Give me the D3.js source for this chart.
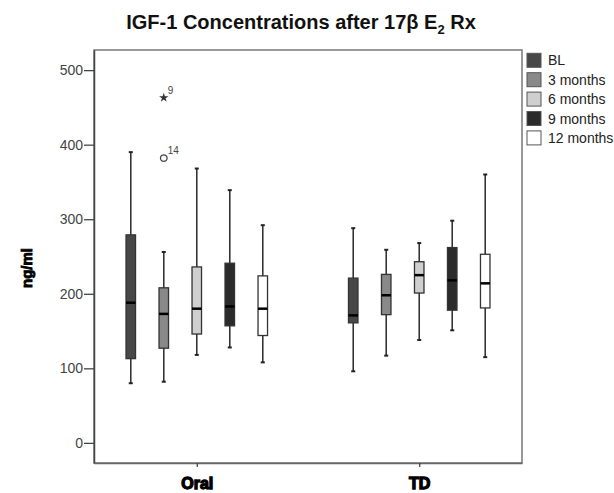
<!DOCTYPE html>
<html>
<head>
<meta charset="utf-8">
<script src="https://cdn.jsdelivr.net/npm/d3@7"></script>
<style>
  body { margin: 0; background: #fff; }
  svg { display: block; font-family: "Liberation Sans", Arial, sans-serif; }
</style>
</head>
<body>
<div id="chart"></div>
<script>
(function () {
  "use strict";

  // groups on the x axis and the five time points
  const groups = ["Oral", "TD"];
  const series = ["BL", "3 months", "6 months", "9 months", "12 months"];
  const fills = ["#474747", "#898989", "#cfcfcf", "#2b2b2b", "#ffffff"];
  const yTicks = [0, 100, 200, 300, 400, 500];

  // [whisker low, Q1, median, Q3, whisker high]
  const oralStats = [
    [80, 113, 188, 279, 390],
    [82, 127, 173, 208, 256],
    [118, 146, 180, 236, 368],
    [128, 157, 183, 241, 339],
    [108, 144, 180, 224, 292],
  ];
  const tdStats = [
    [96, 161, 171, 221, 288],
    [117, 172, 198, 226, 259],
    [138, 201, 225, 243, 268],
    [151, 178, 218, 262, 298],
    [115, 181, 214, 253, 360],
  ];
  // outliers: group, series, value, case label, kind
  const outliers = [
    { group: "Oral", series: "3 months", value: 463, label: "9", kind: "star" },
    { group: "Oral", series: "3 months", value: 382, label: "14", kind: "circle" },
  ];

  const width = 614;
  const height = 493;
  const frame = { left: 94, right: 522, top: 50, bottom: 463 };

  const svg = d3
    .select("#chart")
    .append("svg")
    .attr("width", width)
    .attr("height", height);

  const y = d3.scaleLinear().domain([-27, 527]).range([frame.bottom, frame.top]);
  const x = d3
    .scalePoint()
    .domain(groups)
    .range([frame.left, frame.right])
    .padding(0.462);
  const inner = d3.scaleBand().domain(series).range([-82.5, 82.5]);
  const boxW = 9.5;

  // title
  const title = svg
    .append("text")
    .attr("x", 301)
    .attr("y", 29)
    .attr("text-anchor", "middle")
    .attr("font-weight", "bold")
    .attr("font-size", 20)
    .attr("fill", "#111");
  title.append("tspan").text("IGF-1 Concentrations after 17\u03B2 E");
  title.append("tspan").attr("font-size", 13).attr("dy", 5).text("2");
  title.append("tspan").attr("dy", -5).text(" Rx");

  // frame
  svg
    .append("rect")
    .attr("x", frame.left)
    .attr("y", frame.top)
    .attr("width", frame.right - frame.left)
    .attr("height", frame.bottom - frame.top)
    .attr("fill", "none")
    .attr("stroke", "#777")
    .attr("stroke-width", 1.5);

  // y axis
  const yAxis = svg
    .append("g")
    .attr("transform", `translate(${frame.left},0)`)
    .call(d3.axisLeft(y).tickValues(yTicks).tickSize(10).tickSizeOuter(0).tickPadding(1));
  yAxis.select(".domain").attr("stroke", "#444").attr("stroke-width", 1.5);
  yAxis.selectAll(".tick line").attr("stroke", "#444").attr("stroke-width", 1.3);
  yAxis
    .selectAll(".tick text")
    .attr("font-size", 14)
    .attr("fill", "#444")
    .attr("font-family", "Liberation Sans, Arial, sans-serif");

  // x axis
  const xAxis = svg
    .append("g")
    .attr("transform", `translate(0,${frame.bottom})`)
    .call(d3.axisBottom(x).tickSize(4).tickSizeOuter(0).tickPadding(11));
  xAxis.select(".domain").attr("stroke", "#666").attr("stroke-width", 1.5);
  xAxis.selectAll(".tick line").attr("stroke", "#444").attr("stroke-width", 1.3);
  xAxis
    .selectAll(".tick text")
    .attr("font-size", 16)
    .attr("font-weight", "bold")
    .attr("fill", "#000")
    .attr("stroke", "#000")
    .attr("stroke-width", 1.3)
    .attr("font-family", "Liberation Sans, Arial, sans-serif");

  // y label
  svg
    .append("text")
    .attr("transform", "translate(32,268) rotate(-90)")
    .attr("text-anchor", "middle")
    .attr("font-size", 15)
    .attr("font-weight", "bold")
    .attr("fill", "#000")
    .attr("stroke", "#000")
    .attr("stroke-width", 0.9)
    .text("ng/ml");

  // boxes
  const rows = [];
  groups.forEach((g, gi) => {
    const stats = gi === 0 ? oralStats : tdStats;
    stats.forEach((s, si) => rows.push({ group: g, series: series[si], si: si, s: s }));
  });

  const boxes = svg
    .append("g")
    .selectAll("g")
    .data(rows)
    .join("g")
    .attr("transform", (d) => `translate(${x(d.group) + inner(d.series) + inner.bandwidth() / 2},0)`);

  // whiskers
  boxes
    .append("line")
    .attr("y1", (d) => y(d.s[0]))
    .attr("y2", (d) => y(d.s[4]))
    .attr("stroke", "#333")
    .attr("stroke-width", 1.6);
  boxes
    .selectAll(".cap")
    .data((d) => [d.s[0], d.s[4]])
    .join("line")
    .attr("class", "cap")
    .attr("x1", -2)
    .attr("x2", 2)
    .attr("y1", (v) => y(v))
    .attr("y2", (v) => y(v))
    .attr("stroke", "#222")
    .attr("stroke-width", 2);

  boxes
    .append("rect")
    .attr("x", -boxW / 2)
    .attr("width", boxW)
    .attr("y", (d) => y(d.s[3]))
    .attr("height", (d) => y(d.s[1]) - y(d.s[3]))
    .attr("fill", (d) => fills[d.si])
    .attr("stroke", "#333")
    .attr("stroke-width", 1.3);

  boxes
    .append("line")
    .attr("x1", -boxW / 2)
    .attr("x2", boxW / 2)
    .attr("y1", (d) => y(d.s[2]))
    .attr("y2", (d) => y(d.s[2]))
    .attr("stroke", "#000")
    .attr("stroke-width", 2.5);

  // outliers
  const out = svg
    .append("g")
    .selectAll("g")
    .data(outliers)
    .join("g")
    .attr("transform", (d) => `translate(${x(d.group) + inner(d.series) + inner.bandwidth() / 2},${y(d.value)})`);
  out
    .filter((d) => d.kind === "circle")
    .append("circle")
    .attr("r", 3.3)
    .attr("fill", "#fff")
    .attr("stroke", "#444")
    .attr("stroke-width", 1.3);
  out
    .filter((d) => d.kind === "star")
    .append("path")
    .attr("d", d3.symbol(d3.symbolStar, 28))
    .attr("fill", "#333");
  out
    .append("text")
    .attr("x", 4)
    .attr("y", -4)
    .attr("font-size", 10)
    .attr("fill", "#444")
    .text((d) => d.label);

  // legend
  const legend = svg
    .append("g")
    .selectAll("g")
    .data(series)
    .join("g")
    .attr("transform", (d, i) => `translate(527,${53.3 + i * 19.4})`);
  legend
    .append("rect")
    .attr("width", 14)
    .attr("height", 14)
    .attr("fill", (d, i) => fills[i])
    .attr("stroke", "#555")
    .attr("stroke-width", 1);
  legend
    .append("text")
    .attr("x", 21)
    .attr("y", 12)
    .attr("font-size", 14)
    .attr("fill", "#222")
    .text((d) => d);
})();
</script>
</body>
</html>
